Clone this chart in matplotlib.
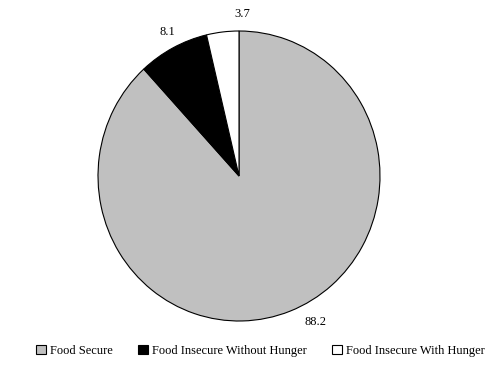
import matplotlib.pyplot as plt
import numpy as np

categories = ['Food Secure', 'Food Insecure Without Hunger', 'Food Insecure With Hunger']
shares = [88.2, 8.1, 3.7]
colors = ['#c0c0c0', '#000000', '#ffffff']
label_pos = [(0.54, -1.01), (-0.51, 0.99), (0.02, 1.12)]

plt.rcParams['font.family'] = ['Liberation Serif', 'DejaVu Serif']

fig = plt.figure(figsize=(5.02, 3.72), dpi=100)
ax = fig.add_axes([98 / 502, 51 / 372, 282 / 502, 290 / 372])

wedges, _ = ax.pie(shares, colors=colors, startangle=90, counterclock=False,
                   wedgeprops=dict(edgecolor='black', linewidth=0.8))
ax.set_aspect('auto')
ax.set_xlim(-1, 1)
ax.set_ylim(-1, 1)

for val, (x, y) in zip(shares, label_pos):
    ax.text(x, y, f'{val:.1f}', ha='center', va='center', fontsize=9, clip_on=False)

leg = fig.legend(wedges, categories, loc='center', bbox_to_anchor=(0.519, 1 - 351 / 372),
                 ncol=3, frameon=False, fontsize=9, handlelength=0.75, handleheight=0.75,
                 handletextpad=0.35, columnspacing=2.05)
for h in leg.legend_handles:
    h.set_linewidth(0.8)
    h.set_edgecolor('black')

fig.savefig('out.png', dpi=100)
